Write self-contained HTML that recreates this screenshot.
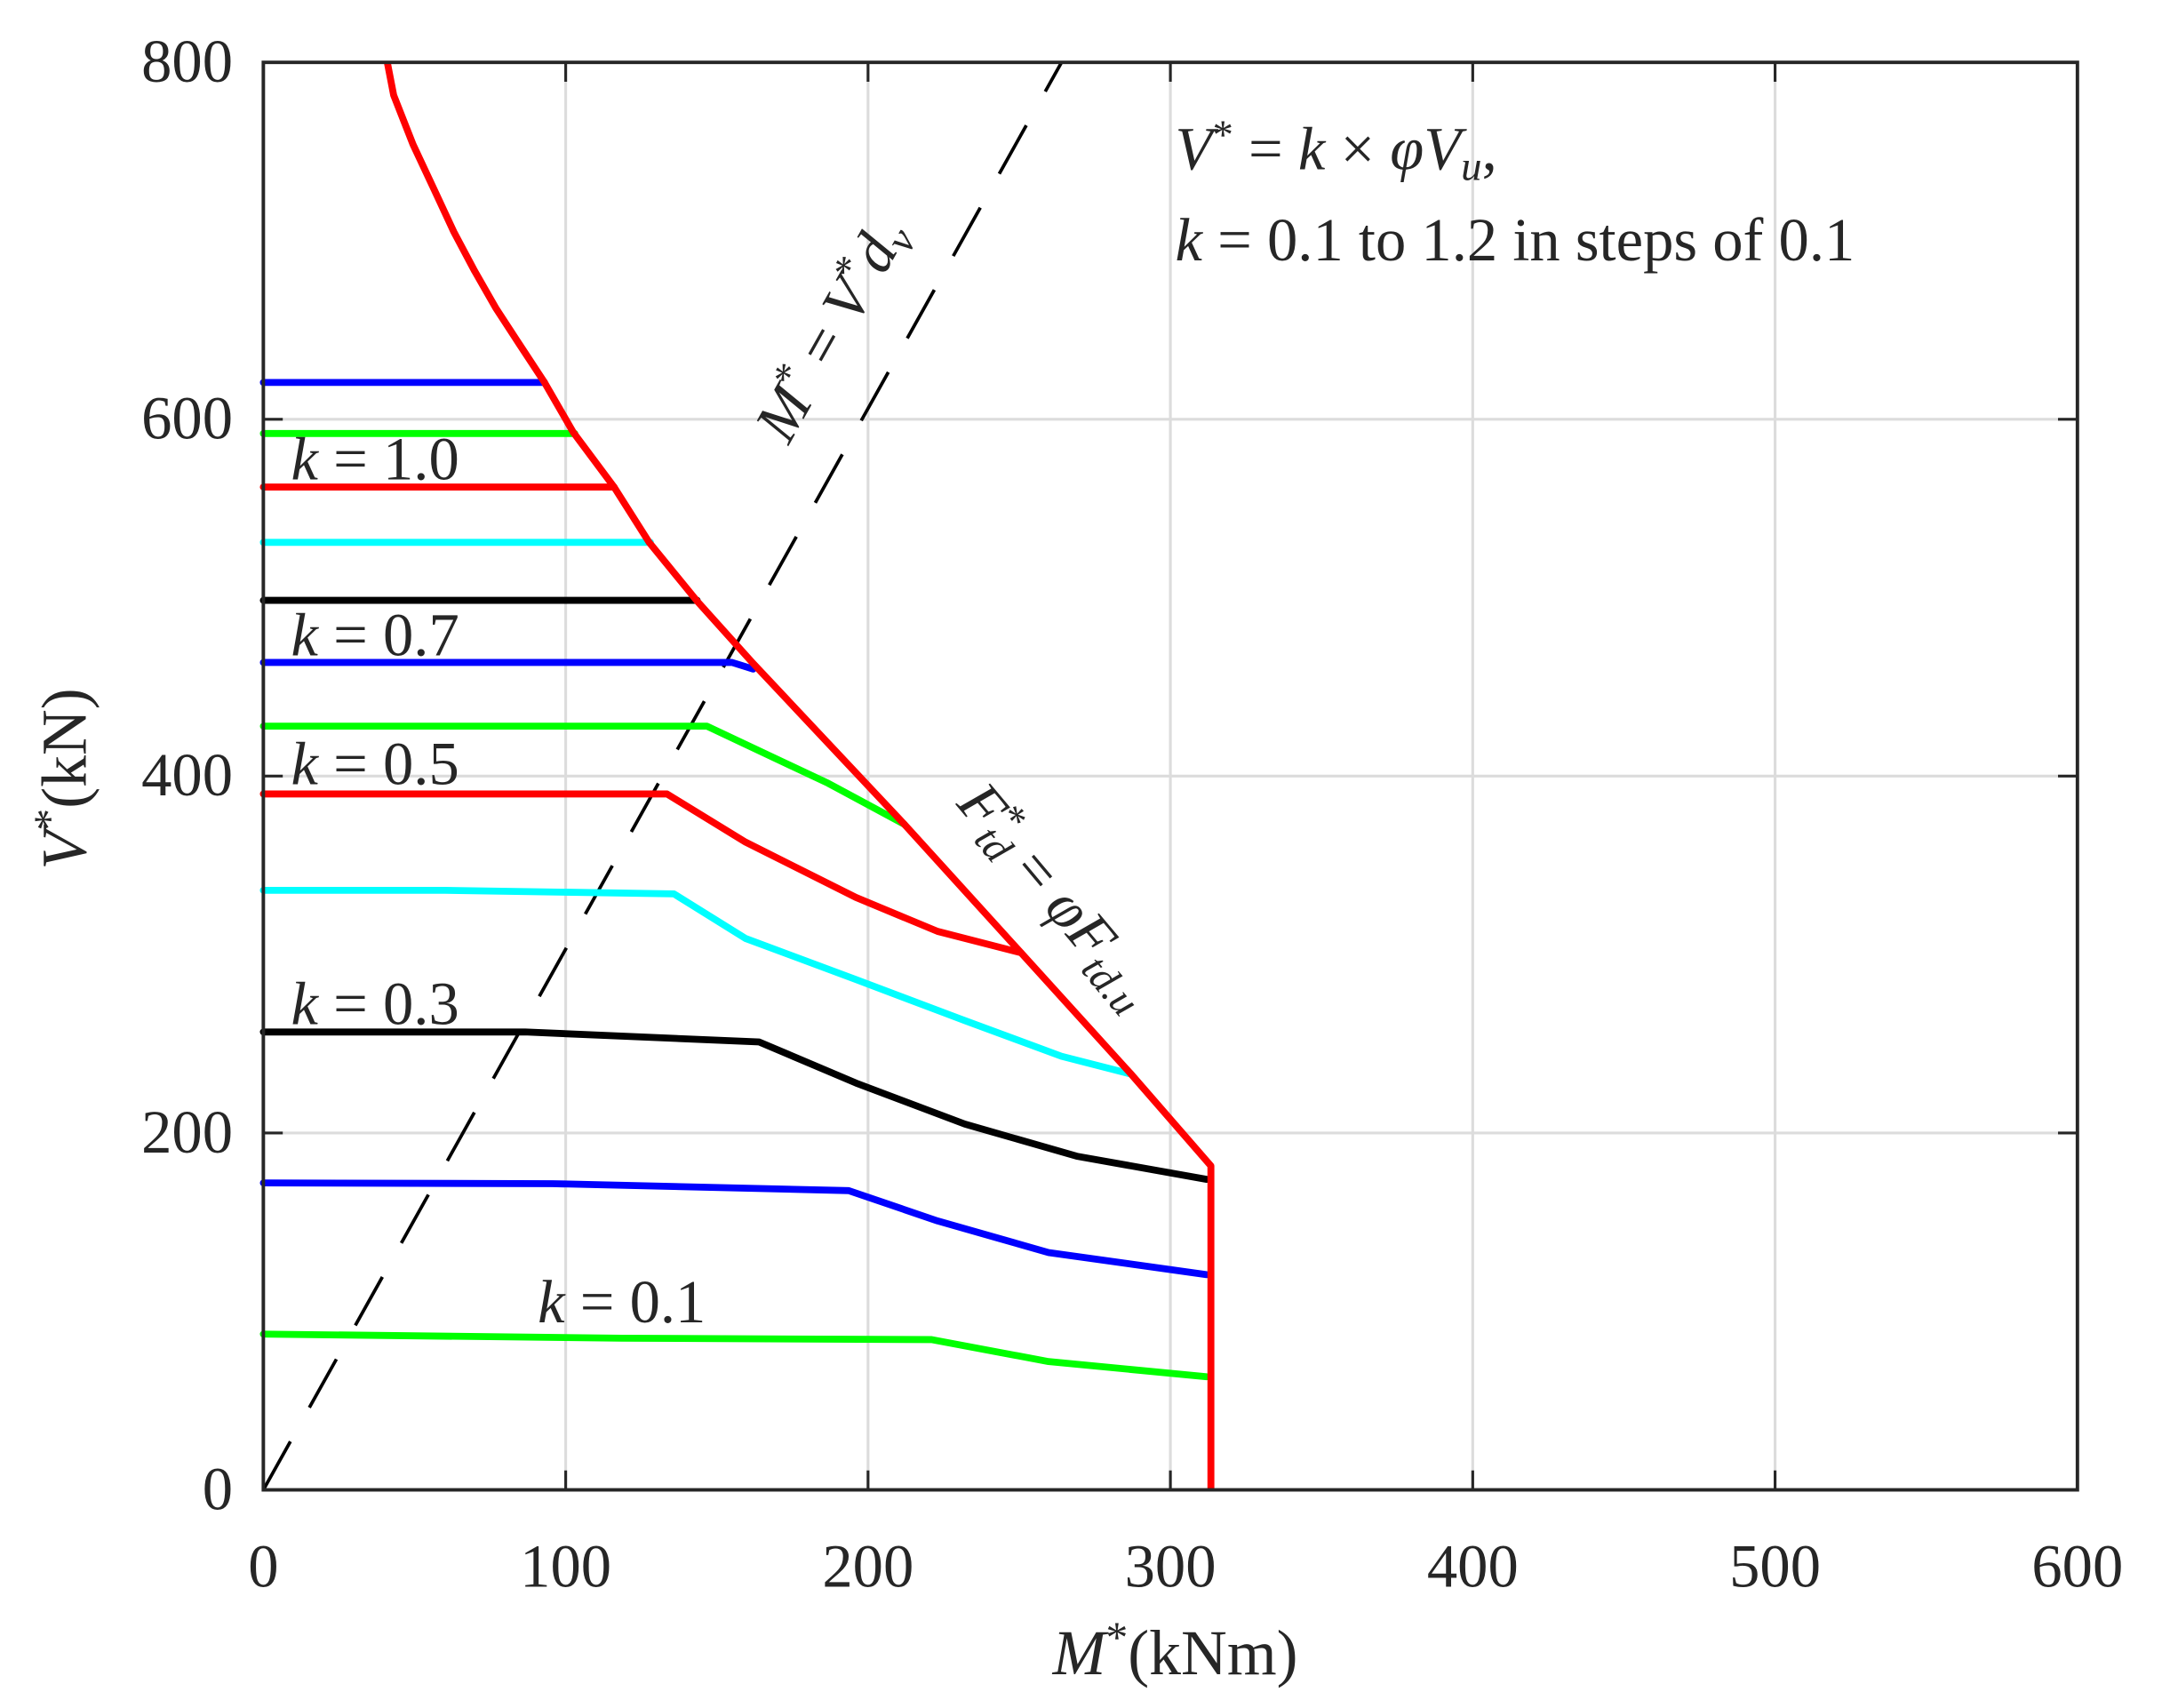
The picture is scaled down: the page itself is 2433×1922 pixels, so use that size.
<!DOCTYPE html>
<html><head><meta charset="utf-8"><style>
html,body{margin:0;padding:0;background:#fff;}
svg{display:block;}
text{font-family:"Liberation Serif",serif;fill:#262626;}
</style></head><body>
<svg id="chart" width="2433" height="1922" viewBox="0 0 1560 1232.4" xmlns="http://www.w3.org/2000/svg">
<g id="grid"></g>
<g id="series"></g>
<g id="axes"></g>
<text x="848" y="1208" font-size="46" text-anchor="middle"><tspan font-style="italic">M</tspan><tspan dy="-16" font-size="32">*</tspan><tspan dy="16">(kNm)</tspan></text>
<text transform="translate(62,562) rotate(-90)" font-size="46" text-anchor="middle"><tspan font-style="italic">V</tspan><tspan dy="-16" font-size="32">*</tspan><tspan dy="16">(kN)</tspan></text>
<text x="848" y="122" font-size="44"><tspan font-style="italic">V</tspan><tspan dy="-15" font-size="30">*</tspan><tspan dy="15"> = </tspan><tspan font-style="italic">k</tspan> × <tspan font-style="italic">φV</tspan><tspan dy="8" font-size="30" font-style="italic">u</tspan><tspan dy="-8">,</tspan></text>
<text x="848" y="188" font-size="44"><tspan font-style="italic">k</tspan> = 0.1 to 1.2 in steps of 0.1</text>
<text x="210" y="346" font-size="44"><tspan font-style="italic">k</tspan> = 1.0</text>
<text x="210" y="473" font-size="44"><tspan font-style="italic">k</tspan> = 0.7</text>
<text x="210" y="566" font-size="44"><tspan font-style="italic">k</tspan> = 0.5</text>
<text x="210" y="739" font-size="44"><tspan font-style="italic">k</tspan> = 0.3</text>
<text x="388" y="954" font-size="44"><tspan font-style="italic">k</tspan> = 0.1</text>
<text transform="translate(612,245) rotate(-60.7)" font-size="44" text-anchor="middle"><tspan font-style="italic">M</tspan><tspan dy="-15" font-size="30">*</tspan><tspan dy="15"> = </tspan><tspan font-style="italic">V</tspan><tspan dy="-15" font-size="30">*</tspan><tspan dy="15" font-style="italic">d</tspan><tspan dy="8" font-size="30" font-style="italic">v</tspan></text>
<text transform="translate(752,655) rotate(50)" font-size="44" text-anchor="middle"><tspan font-style="italic">F</tspan><tspan dy="-15" font-size="30">*</tspan><tspan dy="22" dx="-14" font-size="30" font-style="italic">td</tspan><tspan dy="-7"> = </tspan><tspan font-style="italic">φF</tspan><tspan dy="8" font-size="30" font-style="italic">td.u</tspan></text>
</svg>
<script>
const xTicks=[0,100,200,300,400,500,600];
const yTicks=[0,200,400,600,800];
const envM=[41,43.1,49.5,56.5,63,69.9,77,84.7,93,102.5,116,127.6,143.5,161.7,212,250.6,287,313.4,313.4];
const envV=[800,781.6,754,728.7,705,683,662,642,620.6,592.7,562,531,498,463.7,373,301,233,181.6,0];
const kColors=['#00ff00','#0000ff','#000000','#00ffff','#ff0000','#00ff00','#0000ff','#000000','#00ffff','#ff0000','#00ff00','#0000ff'];
const kM=[
[0,118.5,221,259.7,312],
[0,95.7,193.6,223,259.7,312],
[0,86.6,164,196,232,269,312],
[0,60,135.8,159.5,196,232,264,287],
[0,133.5,159.5,196,223,250.6],
[0,146.7,186.8,212],
[0,155,162],
[0,143.5],
[0,128],
[0,116],
[0,103],
[0,93]];
const kV=[
[87.3,85,84.2,71.9,63.4],
[172,171.6,167.7,150.7,133,120.6],
[256.6,256.6,251,228,205,187,174],
[336,336,334,309,286,263,243,233],
[390,390,363,332,313,301],
[428,428,396,373],
[463.7,463.7,460],
[498.5,498.5],
[531,531],
[562,562],
[592,592],
[620.6,620.6]];
const dvSlope=0.33;
const X0=190,X1=1499,Y0=1075,Y1=45;
const sx=m=>X0+(m-0)/(600-0)*(X1-X0);
const sy=v=>Y0-(v-0)/(800-0)*(Y0-Y1);
const NS='http://www.w3.org/2000/svg';
function mk(tag,parent,attrs){const e=document.createElementNS(NS,tag);for(const k in attrs)e.setAttribute(k,attrs[k]);parent.appendChild(e);return e;}
const grid=document.getElementById('grid'),ser=document.getElementById('series'),ax=document.getElementById('axes');
xTicks.forEach(t=>{
 const g=mk('line',grid,{x1:sx(t),x2:sx(t),y1:Y0,y2:Y1,stroke:'#dcdcdc','stroke-width':2});
 
 
 const tk=mk('line',ax,{x1:sx(t),x2:sx(t),y1:Y0,y2:Y0-14,stroke:'#262626','stroke-width':2});
 
 
 const tk2=mk('line',ax,{x1:sx(t),x2:sx(t),y1:Y1,y2:Y1+14,stroke:'#262626','stroke-width':2});
 
 
 const l=mk('text',ax,{x:sx(t),y:Y0+70,'font-size':44,'text-anchor':'middle'});l.textContent=t;
 
 
});
yTicks.forEach(t=>{
 const g=mk('line',grid,{x1:X0,x2:X1,y1:sy(t),y2:sy(t),stroke:'#dcdcdc','stroke-width':2});
 
 
 const tk=mk('line',ax,{x1:X0,x2:X0+14,y1:sy(t),y2:sy(t),stroke:'#262626','stroke-width':2});
 
 
 const tk2=mk('line',ax,{x1:X1,x2:X1-14,y1:sy(t),y2:sy(t),stroke:'#262626','stroke-width':2});
 
 
 const l=mk('text',ax,{x:X0-22,y:sy(t)+14,'font-size':44,'text-anchor':'end'});l.textContent=t;
 
 
});
const box=mk('rect',ax,{x:X0,y:Y1,width:X1-X0,height:Y0-Y1,fill:'none',stroke:'#262626','stroke-width':2.5});


const vTop=800,mTop=vTop*dvSlope;
const dl=mk('line',ser,{x1:sx(0),y1:sy(0),x2:sx(mTop),y2:sy(vTop),stroke:'#000','stroke-width':2.4,'stroke-dasharray':'40 28'});


kM.forEach((ms,i)=>{
 const pts=ms.map((m,j)=>sx(m)+','+sy(kV[i][j])).join(' ');
 const p=mk('polyline',ser,{points:pts,fill:'none',stroke:kColors[i],'stroke-width':5,'stroke-linejoin':'round','stroke-linecap':'round'});
 
 
});
const ep=envM.map((m,j)=>sx(m)+','+sy(envV[j])).join(' ');
const env=mk('polyline',ser,{points:ep,fill:'none',stroke:'#ff0000','stroke-width':5,'stroke-linejoin':'round'});


</script>
</body></html>
